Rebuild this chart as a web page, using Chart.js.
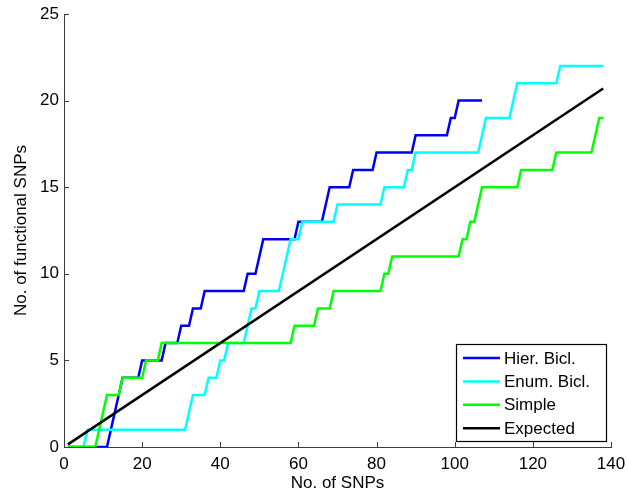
<!DOCTYPE html>
<html>
<head>
<meta charset="utf-8">
<title>Functional SNPs</title>
<script src="https://cdn.jsdelivr.net/npm/chart.js@4/dist/chart.umd.min.js"></script>
<style>
    html, body { margin: 0; padding: 0; background: #fff; }
    #wrap { width: 627px; height: 494px; }
</style>
</head>
<body>
<div id="wrap"><canvas id="snpChart" width="627" height="494"></canvas></div>
<script>
// Corner points of each step curve
const hierX = [1, 11, 15, 19, 20, 25, 26, 29, 30, 32, 33, 35, 36, 46, 47, 49, 51, 59, 60, 66, 68, 73, 74, 79, 80, 89, 90, 98, 99, 100, 101, 107];
const hierY = [0, 0, 4, 4, 5, 5, 6, 6, 7, 7, 8, 8, 9, 9, 10, 10, 12, 12, 13, 13, 15, 15, 16, 16, 17, 17, 18, 18, 19, 19, 20, 20];

const enumX = [1, 5, 6, 31, 33, 36, 37, 39, 40, 41, 42, 46, 48, 49, 50, 55, 58, 60, 61, 69, 70, 81, 82, 87, 88, 89, 90, 106, 108, 114, 116, 126, 127, 138];
const enumY = [0, 0, 1, 1, 3, 3, 4, 4, 5, 5, 6, 6, 8, 8, 9, 9, 12, 12, 13, 13, 14, 14, 15, 15, 16, 16, 17, 17, 19, 19, 21, 21, 22, 22];

const simpleX = [1, 8, 11, 14, 15, 20, 21, 24, 25, 58, 59, 64, 65, 68, 69, 81, 82, 83, 84, 101, 102, 103, 104, 105, 107, 116, 117, 125, 126, 135, 137, 138];
const simpleY = [0, 0, 3, 3, 4, 4, 5, 5, 6, 6, 7, 7, 8, 8, 9, 9, 10, 10, 11, 11, 12, 12, 13, 13, 15, 15, 16, 16, 17, 17, 19, 19];

const expectedX = [1, 138];
const expectedY = [0.15, 20.7];

const seriesLabels = ['Hier. Bicl.', 'Enum. Bicl.', 'Simple', 'Expected'];
const seriesColors = ['#0000f0', '#00ffff', '#00ff00', '#000000'];

const xTicks = [0, 20, 40, 60, 80, 100, 120, 140];
const yTicks = [0, 5, 10, 15, 20, 25];

const FONT = "'Liberation Sans', Arial, Helvetica, sans-serif";
const AXIS_COLOR = '#3a3a3a';

/**
 * Zip x / y arrays into Chart.js points
 */
function toPoints(xs, ys) {
    return xs.map((x, i) => ({ x: x, y: ys[i] }));
}

/**
 * MATLAB style ticks pointing into the plot
 */
const inwardTicks = {
    id: 'inwardTicks',
    afterDatasetsDraw(chart) {
        const { ctx, chartArea, scales } = chart;
        ctx.save();
        ctx.strokeStyle = AXIS_COLOR;
        ctx.lineWidth = 1;
        ctx.beginPath();
        xTicks.forEach(v => {
            const px = Math.round(scales.x.getPixelForValue(v)) + 0.5;
            ctx.moveTo(px, chartArea.bottom);
            ctx.lineTo(px, chartArea.bottom - 5);
        });
        yTicks.forEach(v => {
            const py = Math.round(scales.y.getPixelForValue(v)) + 0.5;
            ctx.moveTo(chartArea.left, py);
            ctx.lineTo(chartArea.left + 5, py);
        });
        ctx.stroke();
        ctx.restore();
    }
};

/**
 * Boxed legend in the lower right corner of the axes
 */
const boxLegend = {
    id: 'boxLegend',
    afterDraw(chart) {
        const { ctx, chartArea } = chart;
        const boxW = 150, boxH = 97;
        const left = chartArea.right - 5 - boxW;
        const top = chartArea.bottom - 6 - boxH;
        ctx.save();
        ctx.fillStyle = '#fff';
        ctx.fillRect(left, top, boxW, boxH);
        ctx.strokeStyle = '#000';
        ctx.lineWidth = 1.2;
        ctx.strokeRect(left + 0.5, top + 0.5, boxW, boxH);
        ctx.font = '17px ' + FONT;
        ctx.textBaseline = 'middle';
        chart.data.datasets.forEach((ds, i) => {
            const y = top + 14 + i * 23.4;
            ctx.strokeStyle = ds.borderColor;
            ctx.lineWidth = 2.5;
            ctx.beginPath();
            ctx.moveTo(left + 7, y);
            ctx.lineTo(left + 44, y);
            ctx.stroke();
            ctx.fillStyle = '#000';
            ctx.fillText(ds.label, left + 48, y + 1);
        });
        ctx.restore();
    }
};

function initializeChart() {
    const series = [
        toPoints(hierX, hierY),
        toPoints(enumX, enumY),
        toPoints(simpleX, simpleY),
        toPoints(expectedX, expectedY)
    ];

    const datasets = series.map((pts, i) => ({
        label: seriesLabels[i],
        data: pts,
        borderColor: seriesColors[i],
        backgroundColor: seriesColors[i],
        borderWidth: 2.5,
        pointRadius: 0,
        tension: 0,
        fill: false,
        order: series.length - i
    }));

    new Chart(document.getElementById('snpChart'), {
        type: 'line',
        data: { datasets: datasets },
        options: {
            responsive: false,
            animation: false,
            layout: { padding: { top: 14, right: 16, left: 0, bottom: 0 } },
            plugins: {
                legend: { display: false },
                tooltip: { enabled: false }
            },
            scales: {
                x: {
                    type: 'linear',
                    min: 0,
                    max: 140,
                    afterBuildTicks: s => { s.ticks = xTicks.map(v => ({ value: v })); },
                    afterFit: s => {
                        s.height = 47;
                        // let the "140" label hang into the right margin
                        s.paddingLeft = 0;
                        s.paddingRight = 0;
                    },
                    grid: { display: false, drawTicks: false },
                    border: { display: true, color: AXIS_COLOR, width: 1 },
                    ticks: { color: '#000', font: { family: FONT, size: 17 }, padding: 7, maxRotation: 0 },
                    title: {
                        display: true,
                        text: 'No. of SNPs',
                        color: '#000',
                        font: { family: FONT, size: 17 },
                        padding: { top: -4, bottom: 0 }
                    }
                },
                y: {
                    type: 'linear',
                    min: 0,
                    max: 25,
                    afterBuildTicks: s => { s.ticks = yTicks.map(v => ({ value: v })); },
                    afterFit: s => {
                        s.width = 64;
                        s.paddingTop = 0;
                        s.paddingBottom = 0;
                    },
                    grid: { display: false, drawTicks: false },
                    border: { display: true, color: AXIS_COLOR, width: 1 },
                    ticks: { color: '#000', font: { family: FONT, size: 17 }, padding: 5 },
                    title: {
                        display: true,
                        text: 'No. of functional SNPs',
                        color: '#000',
                        font: { family: FONT, size: 17 },
                        padding: { top: 11, bottom: 0 }
                    }
                }
            }
        },
        plugins: [inwardTicks, boxLegend]
    });
}

initializeChart();
</script>
</body>
</html>
